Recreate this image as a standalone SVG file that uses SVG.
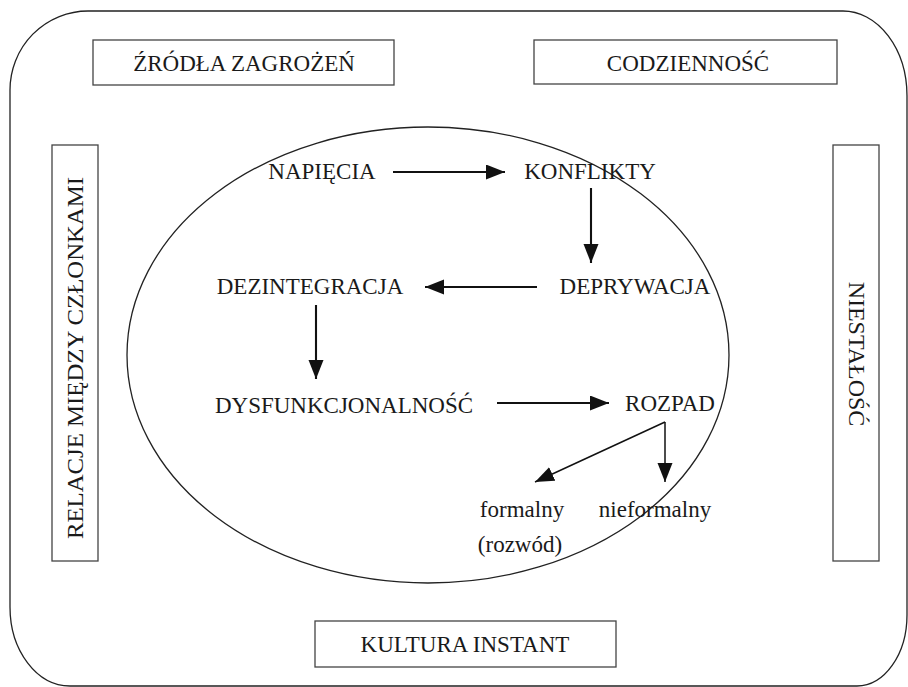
<svg xmlns="http://www.w3.org/2000/svg" width="908" height="687" viewBox="0 0 908 687" font-family="'Liberation Serif', 'DejaVu Serif', 'Times New Roman', serif">
<style>
  text { font-family: 'Liberation Serif', 'DejaVu Serif', 'Times New Roman', serif; font-size: 23px; fill: #1a1a1a; text-anchor: middle; }
  .vert { font-size: 24px; }
  .box { fill: #fff; stroke: #444; stroke-width: 1.3; }
  .outline { fill: none; stroke: #222; stroke-width: 1.3; }
  .arrow { stroke: #111; stroke-width: 2.1; fill: none; marker-end: url(#ah); }
  .thin { stroke: #111; stroke-width: 1.5; fill: none; marker-end: url(#ah); }
</style>
<defs>
  <marker id="ah" markerUnits="userSpaceOnUse" markerWidth="22" markerHeight="16" refX="19" refY="7.5" orient="auto">
    <path d="M0,0 L19,7.5 L0,15 z" fill="#111"/>
  </marker>
</defs>
<rect width="908" height="687" fill="#fff"/>
<path class="outline" d="M88,11 H843 A64,85 0 0 1 907,96 V615 A50,71 0 0 1 857,686 H70 A60,79 0 0 1 10,607 V90 A78,79 0 0 1 88,11 Z"/>
<ellipse class="outline" cx="428" cy="355" rx="301" ry="228"/>

<g id="zrodla"><rect class="box" x="93" y="40" width="301" height="45"/><text x="244" y="71">ŹRÓDŁA ZAGROŻEŃ</text></g>
<g id="codziennosc"><rect class="box" x="534" y="40" width="303" height="44"/><text x="688" y="71">CODZIENNOŚĆ</text></g>
<g id="relacje"><rect class="box" x="52" y="145" width="46" height="416"/><text class="vert" transform="translate(83,358) rotate(-90)" textLength="362" lengthAdjust="spacingAndGlyphs">RELACJE MIĘDZY CZŁONKAMI</text></g>
<g id="niestalosc"><rect class="box" x="833" y="145" width="46" height="416"/><text class="vert" transform="translate(849,354) rotate(90)">NIESTAŁOŚĆ</text></g>
<g id="kultura"><rect class="box" x="315" y="621" width="301" height="46"/><text x="465" y="652">KULTURA INSTANT</text></g>

<g id="napiecia"><text x="322" y="179">NAPIĘCIA</text></g>
<g id="konflikty"><text x="590" y="179">KONFLIKTY</text></g>
<g id="deprywacja"><text x="635" y="294">DEPRYWACJA</text></g>
<g id="dezintegracja"><text x="310" y="294">DEZINTEGRACJA</text></g>
<g id="dysfunkcjonalnosc"><text x="344" y="413">DYSFUNKCJONALNOŚĆ</text></g>
<g id="rozpad"><text x="670" y="411">ROZPAD</text></g>
<g id="formalny"><text x="522" y="517">formalny</text><text x="520" y="552">(rozwód)</text></g>
<g id="nieformalny"><text x="655" y="517">nieformalny</text></g>

<g id="connectors">
  <line class="arrow" x1="393" y1="172" x2="505" y2="172"/>
  <line class="arrow" x1="591" y1="188" x2="591" y2="263"/>
  <line class="arrow" x1="537" y1="287" x2="425" y2="287"/>
  <line class="arrow" x1="316" y1="305" x2="316" y2="379"/>
  <line class="arrow" x1="497" y1="403" x2="609" y2="403"/>
  <line class="thin" x1="665" y1="422" x2="535" y2="482"/>
  <line class="thin" x1="665" y1="422" x2="665" y2="482"/>
</g>
</svg>
